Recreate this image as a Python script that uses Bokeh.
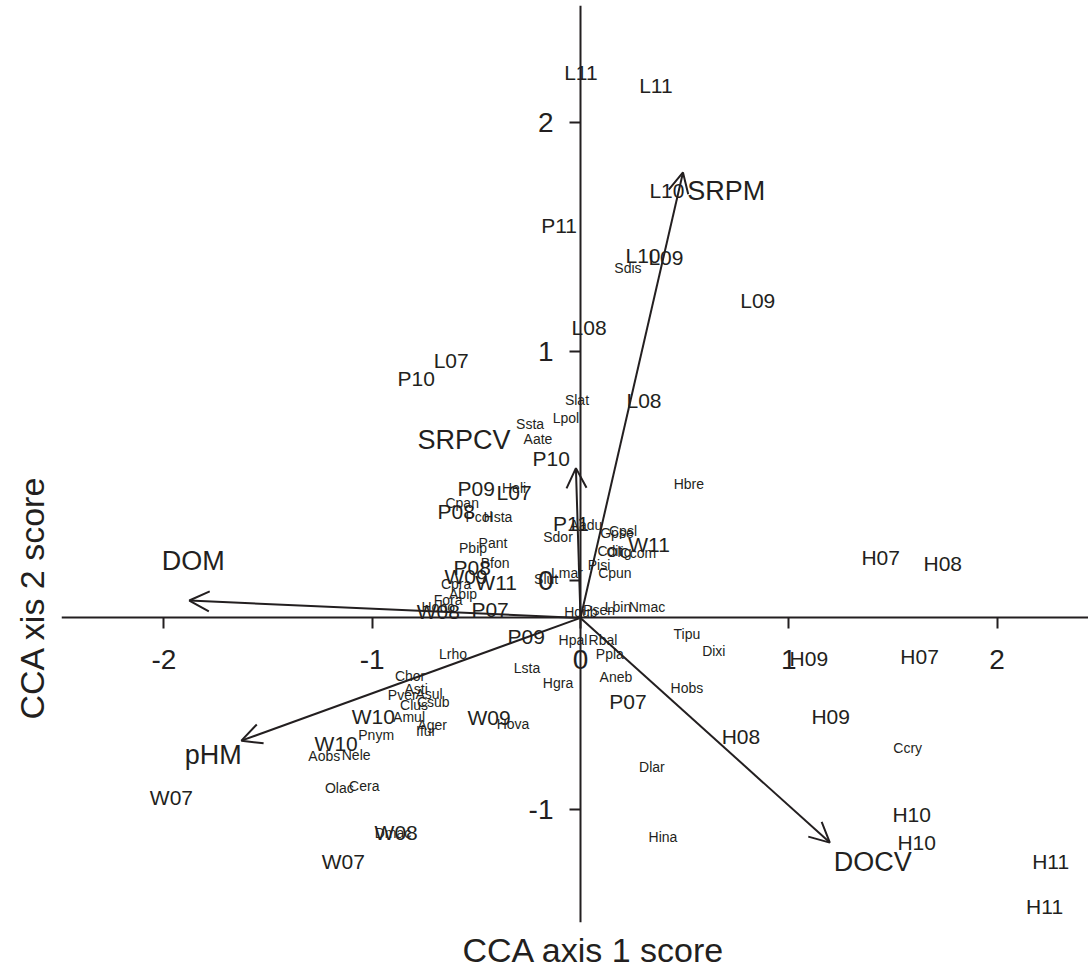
from bokeh.plotting import figure
from bokeh.models import ColumnDataSource, LinearAxis, FixedTicker, Arrow, OpenHead, Title
from bokeh.core.properties import value
from bokeh.embed import file_html
from bokeh.resources import INLINE

# ---- data ----
site_labels = ["L11", "L11", "L10", "P11", "L10", "L09", "L09", "L08", "L07", "P10",
               "L08", "P10", "P09", "L07", "P11", "W11", "P08", "P08", "W09", "W11",
               "W08", "P07", "P09", "P07", "H08", "W10", "W09", "W10", "W07", "W08",
               "W07", "H07", "H08", "H09", "H07", "H09", "H10", "H10", "H11", "H11"]
site_x = [0.002, 0.362, 0.415, -0.103, 0.300, 0.410, 0.851, 0.041, -0.621, -0.789,
          0.305, -0.141, -0.501, -0.319, -0.046, 0.329, -0.597, -0.520, -0.549, -0.405,
          -0.683, -0.434, -0.261, 0.228, 0.770, -0.995, -0.439, -1.173, -1.964, -0.885,
          -1.139, 1.441, 1.739, 1.096, 1.628, 1.201, 1.590, 1.614, 2.257, 2.228]
site_y = [2.218, 2.162, 1.704, 1.551, 1.420, 1.412, 1.224, 1.107, 0.962, 0.883,
          0.788, 0.535, 0.404, 0.383, 0.248, 0.156, 0.300, 0.056, 0.017, -0.010,
          -0.136, -0.128, -0.245, -0.529, -0.682, -0.595, -0.599, -0.712, -0.948, -1.100,
          -1.227, 0.099, 0.073, -0.342, -0.333, -0.594, -1.022, -1.144, -1.227, -1.423]

species_labels = ["Sdis", "Slat", "Lpol", "Ssta", "Aate", "Hbre", "Heli", "Cpan", "Pcol", "Hsta",
                  "Pant", "Pbip", "Bfon", "Cpra", "Abip", "Fora", "Hobo", "Sdor", "Aadu", "Gpse",
                  "Cpsl", "Cdit", "Olig", "Ccom", "Pisi", "Cpun", "Lmar", "Slut", "Lbin", "Nmac",
                  "Hdub", "Psen", "Hpal", "Rbal", "Ppla", "Tipu", "Dixi", "Lsta", "Hgra", "Aneb",
                  "Hobs", "Hova", "Dlar", "Hina", "Ccry", "Lrho", "Chor", "Asti", "Pver", "Asul",
                  "Clus", "Csub", "Amul", "Ager", "Ifur", "Pnym", "Aobs", "Nele", "Olac", "Cera",
                  "Dmac"]
species_x = [0.228, -0.017, -0.070, -0.242, -0.204, 0.520, -0.319, -0.568, -0.487, -0.396,
             -0.420, -0.516, -0.410, -0.597, -0.564, -0.636, -0.683, -0.108, 0.026, 0.175,
             0.204, 0.141, 0.185, 0.276, 0.089, 0.165, -0.065, -0.165, 0.180, 0.319,
             0.002, 0.089, -0.036, 0.108, 0.141, 0.511, 0.640, -0.257, -0.108, 0.170,
             0.511, -0.324, 0.343, 0.396, 1.571, -0.612, -0.818, -0.789, -0.856, -0.727,
             -0.799, -0.707, -0.823, -0.712, -0.741, -0.981, -1.230, -1.077, -1.158, -1.038,
             -0.900]
species_y = [1.364, 0.788, 0.710, 0.684, 0.618, 0.422, 0.404, 0.339, 0.278, 0.278,
             0.164, 0.142, 0.077, -0.015, -0.058, -0.084, -0.115, 0.190, 0.243, 0.208,
             0.217, 0.129, 0.125, 0.120, 0.068, 0.033, 0.033, 0.007, -0.115, -0.115,
             -0.137, -0.128, -0.259, -0.259, -0.320, -0.233, -0.307, -0.383, -0.446, -0.420,
             -0.468, -0.625, -0.815, -1.120, -0.730, -0.320, -0.416, -0.473, -0.499, -0.494,
             -0.542, -0.529, -0.595, -0.630, -0.656, -0.674, -0.766, -0.762, -0.906, -0.897,
             -1.100]

env_labels = ["DOM", "SRPM", "SRPCV", "pHM", "DOCV"]
env_x = [-1.878, 0.492, -0.022, -1.628, 1.197]
env_y = [-0.087, 1.782, 0.491, -0.699, -1.144]
env_label_x = [-1.859, 0.700, -0.559, -1.763, 1.403]
env_label_y = [0.086, 1.703, 0.614, -0.760, -1.227]

origin_x = 0.0
origin_y = -0.163

axis1_ticks = [-2, -1, 0, 1, 2]
axis2_ticks = [-1, 0, 1, 2]

INK = "#231f20"
FONT = "Liberation Sans"

p = figure(width=1088, height=975,
           x_range=(-2.4916, 2.4388), y_range=(-1.4928, 2.5107),
           output_backend="svg", toolbar_location=None,
           x_axis_location=None, y_axis_location=None,
           min_border_left=60, min_border_right=0, min_border_top=5, min_border_bottom=52)
p.outline_line_color = None
p.background_fill_color = "white"
p.border_fill_color = "white"
p.grid.grid_line_color = None
p.xgrid.grid_line_color = None
p.ygrid.grid_line_color = None

def style_axis(ax, ticks):
    ax.axis_line_width = 2
    ax.axis_line_color = INK
    ax.major_tick_line_width = 2
    ax.major_tick_line_color = INK
    ax.major_tick_in = 0
    ax.major_tick_out = 11
    ax.minor_tick_line_color = None
    ax.major_label_text_font = FONT
    ax.major_label_text_font_size = "28px"
    ax.major_label_text_color = INK
    ax.major_label_overrides = {t: str(t) for t in ticks}

xaxis = LinearAxis(fixed_location=origin_y, ticker=FixedTicker(ticks=axis1_ticks))
style_axis(xaxis, axis1_ticks)
xaxis.major_label_standoff = 21
p.add_layout(xaxis, "below")

yaxis = LinearAxis(fixed_location=origin_x, ticker=FixedTicker(ticks=axis2_ticks))
style_axis(yaxis, axis2_ticks)
yaxis.major_label_standoff = 16
yaxis.major_label_orientation = "horizontal"
p.add_layout(yaxis, "left")

p.add_layout(Title(text="CCA axis 1 score", align="left", offset=401, standoff=13,
                   text_font=FONT, text_font_size="34px", text_font_style="normal",
                   text_color=INK), "below")
p.add_layout(Title(text="CCA xis 2 score", align="left", offset=203, standoff=21,
                   text_font=FONT, text_font_size="34px", text_font_style="normal",
                   text_color=INK), "left")

site_src = ColumnDataSource(dict(x=site_x, y=site_y, label=site_labels))
p.text(x="x", y="y", text="label", source=site_src,
       text_font=value(FONT), text_font_size=value("21px"), text_color=INK,
       text_align="center", text_baseline="middle")

sp_src = ColumnDataSource(dict(x=species_x, y=species_y, label=species_labels))
p.text(x="x", y="y", text="label", source=sp_src,
       text_font=value(FONT), text_font_size=value("14px"), text_color=INK,
       text_align="center", text_baseline="middle")

env_src = ColumnDataSource(dict(x0=[origin_x] * len(env_x), y0=[origin_y] * len(env_y),
                                x1=env_x, y1=env_y,
                                lx=env_label_x, ly=env_label_y, label=env_labels))
p.add_layout(Arrow(end=OpenHead(size=20, line_width=2, line_color=INK),
                   x_start="x0", y_start="y0", x_end="x1", y_end="y1",
                   source=env_src, line_width=2, line_color=INK))
p.text(x="lx", y="ly", text="label", source=env_src,
       text_font=value(FONT), text_font_size=value("27px"), text_color=INK,
       text_align="center", text_baseline="middle")

open("out.html", "w").write(file_html(p, INLINE))
